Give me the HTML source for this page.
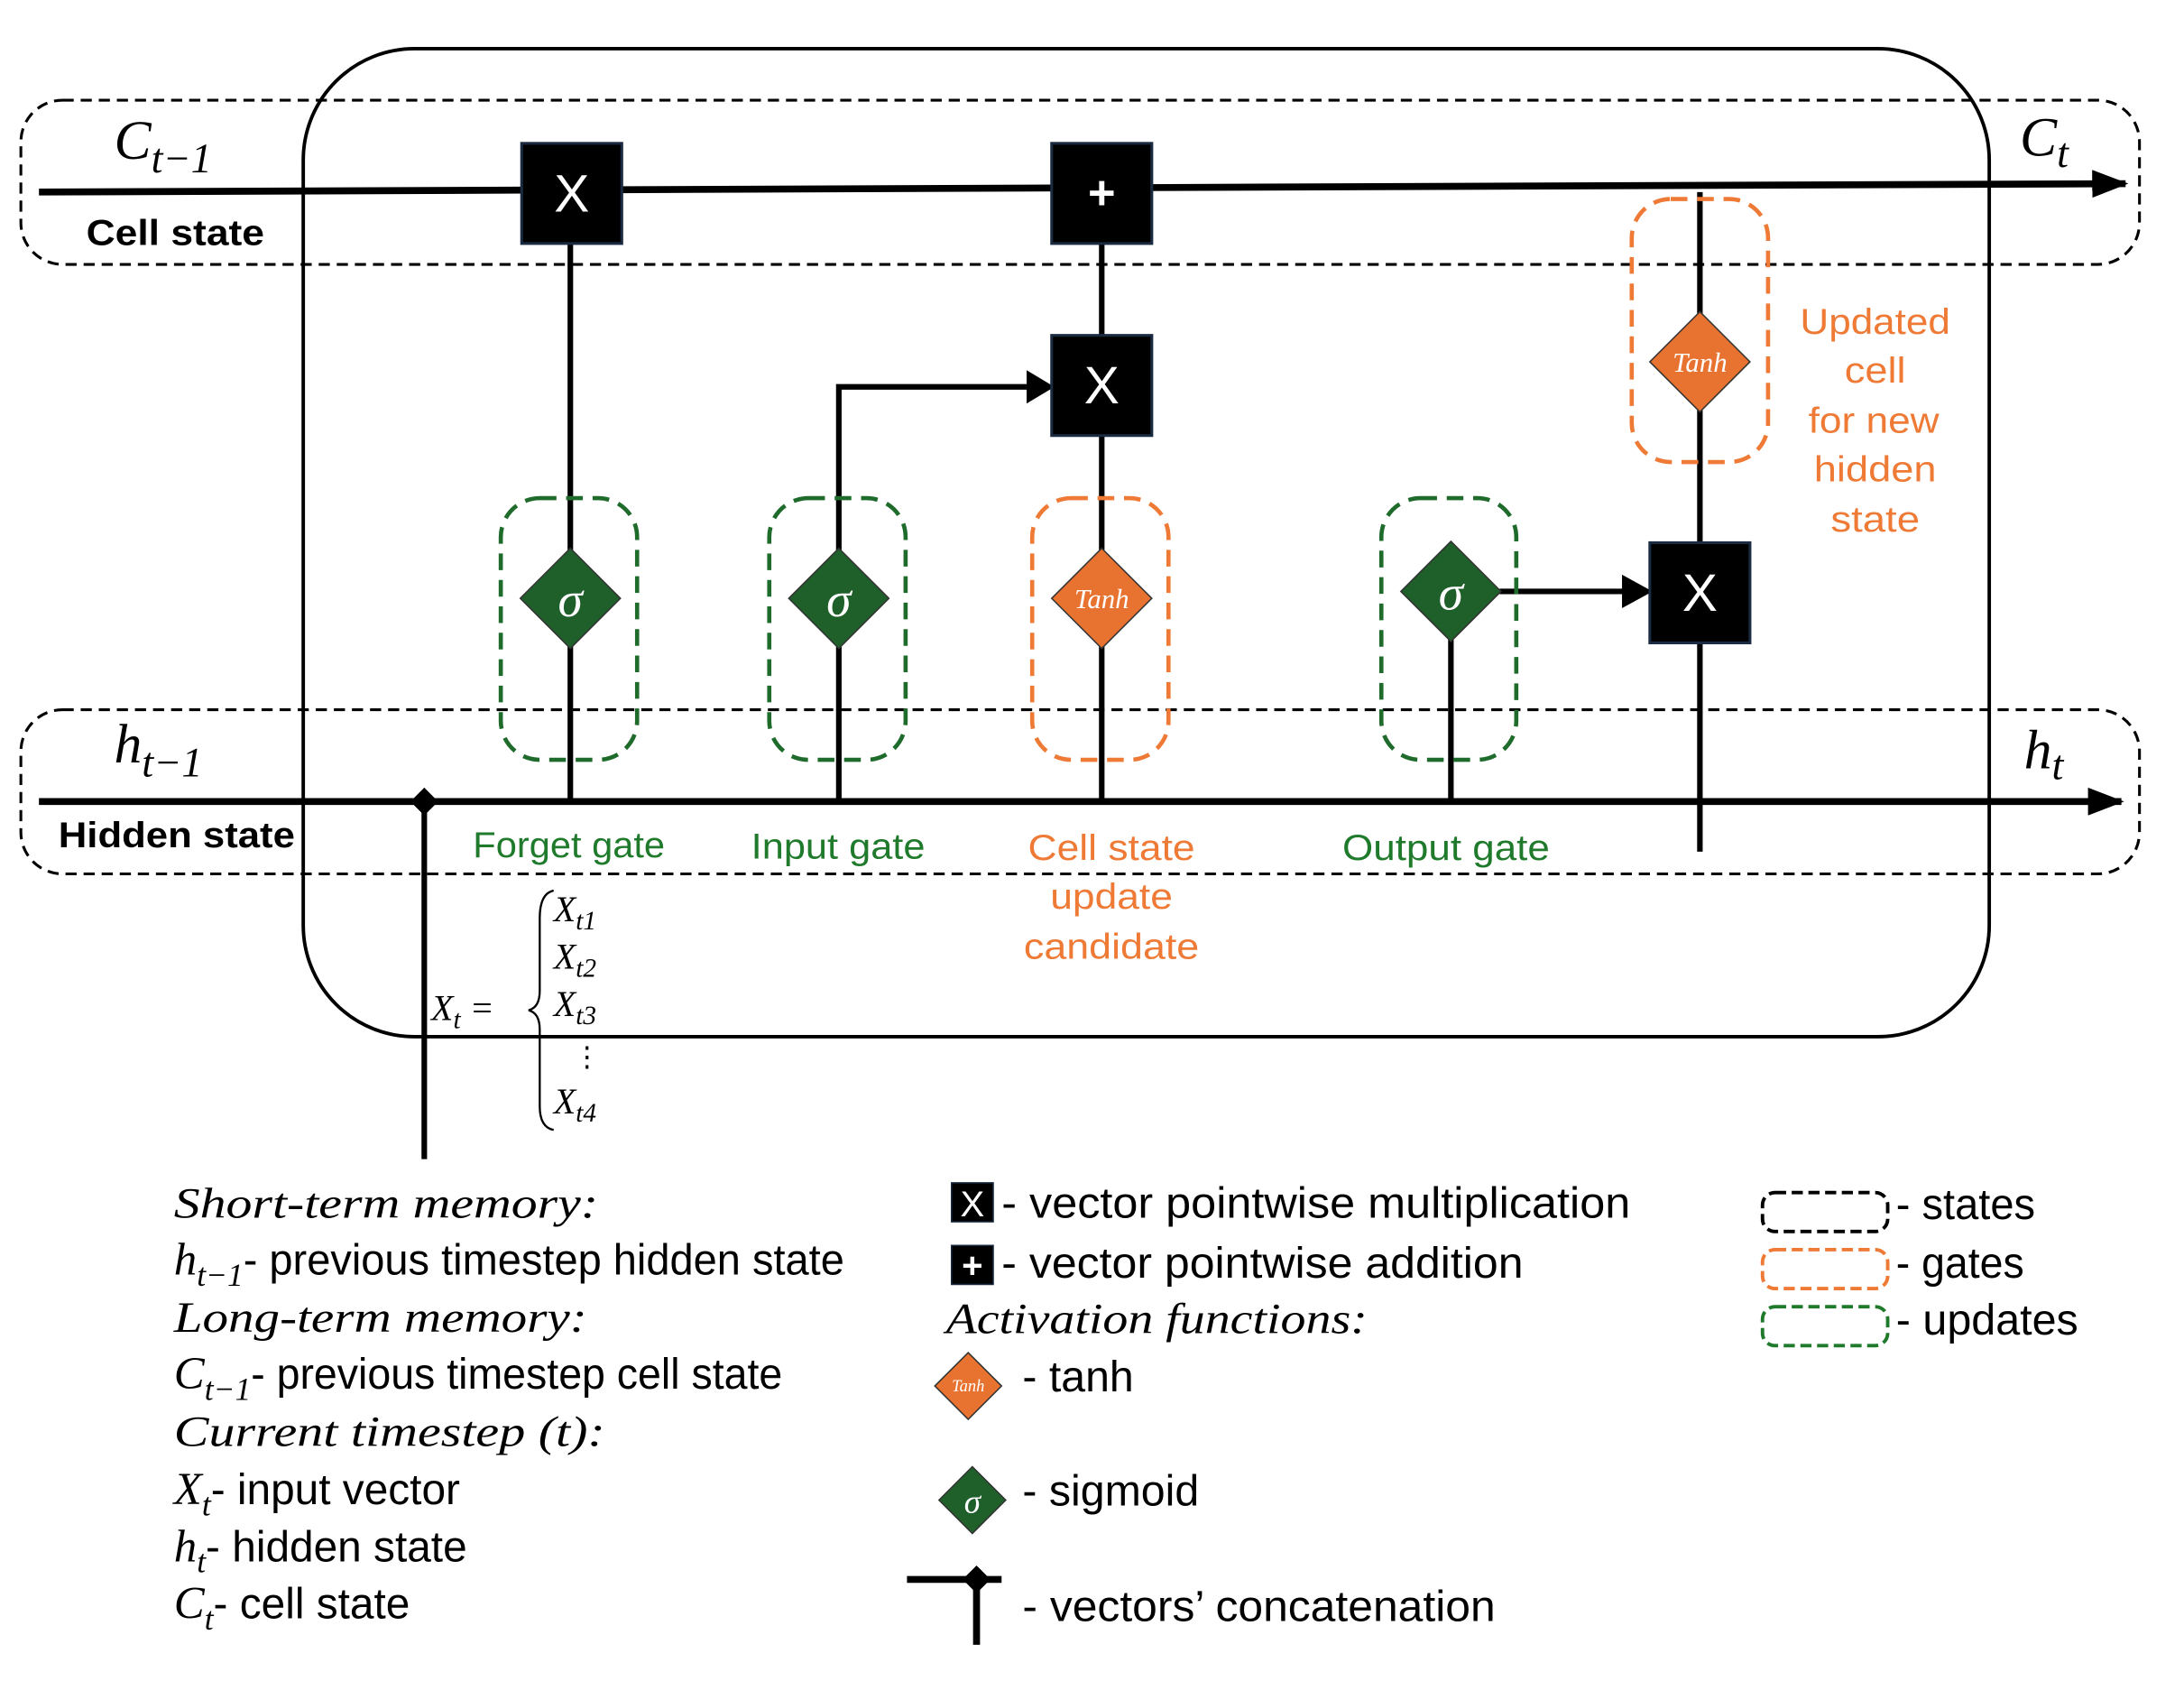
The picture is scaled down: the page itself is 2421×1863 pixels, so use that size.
<!DOCTYPE html>
<html><head><meta charset="utf-8"><style>
html,body{margin:0;padding:0;background:#fff;}
svg{display:block;}
.s{font-family:"Liberation Sans",sans-serif;}
.m{font-family:"Liberation Serif",serif;font-style:italic;}
</style></head><body>
<svg width="2421" height="1863" viewBox="0 0 1570 1208" preserveAspectRatio="none" xmlns="http://www.w3.org/2000/svg">
<defs>
<marker id="ar2" markerWidth="26" markerHeight="20" refX="24" refY="10" orient="auto" markerUnits="userSpaceOnUse">
<path d="M0,0 L26,10 L0,20 z" fill="#000"/></marker>
</defs>
<rect x="218" y="35" width="1212" height="710" rx="80" fill="none" stroke="#000" stroke-width="2.5"/>
<rect x="15" y="72" width="1523" height="118" rx="30" fill="none" stroke="#000" stroke-width="2" stroke-dasharray="8,5"/>
<rect x="15" y="510" width="1523" height="118" rx="30" fill="none" stroke="#000" stroke-width="2" stroke-dasharray="8,5"/>
<line x1="28" y1="138" x2="1528" y2="132" stroke="#000" stroke-width="5" marker-end="url(#ar2)"/>
<line x1="28" y1="576" x2="1525" y2="576" stroke="#000" stroke-width="5" marker-end="url(#ar2)"/>
<g stroke="#000" stroke-width="4" fill="none">
<line x1="410" y1="175" x2="410" y2="576"/>
<line x1="792" y1="175" x2="792" y2="241"/>
<line x1="792" y1="313" x2="792" y2="576"/>
<polyline points="603,576 603,278 738,278"/>
<line x1="1043" y1="430" x2="1043" y2="576"/>
<line x1="1078" y1="425" x2="1168" y2="425"/>
<line x1="1222" y1="138" x2="1222" y2="612"/>
<line x1="305" y1="576" x2="305" y2="833"/>
</g>
<path d="M738,266 L758,278 L738,290z" fill="#000"/>
<path d="M1166,413 L1188,425 L1166,437z" fill="#000"/>
<path d="M305,566 L315,576 L305,586 L295,576z" fill="#000"/>
<g fill="none" stroke-width="3" stroke-dasharray="12,7">
<rect x="360" y="358" width="98" height="188" rx="28" stroke="#1f6b2c"/>
<rect x="553" y="358" width="98" height="188" rx="28" stroke="#1f6b2c"/>
<rect x="993" y="358" width="97" height="188" rx="28" stroke="#1f6b2c"/>
<rect x="742" y="358" width="98" height="188" rx="28" stroke="#ee7a35"/>
<rect x="1173" y="143" width="98" height="189" rx="28" stroke="#ee7a35"/>
</g>
<g fill="#000" stroke="#1a2a40" stroke-width="2">
<rect x="375" y="103" width="72" height="72"/>
<rect x="756" y="103" width="72" height="72"/>
<rect x="756" y="241" width="72" height="72"/>
<rect x="1186" y="390" width="72" height="72"/>
</g>
<g class="s" fill="#fff" font-size="38" text-anchor="middle">
<text x="411" y="152">X</text><text x="792" y="150" font-size="34" font-weight="bold">+</text>
<text x="792" y="290">X</text><text x="1222" y="439">X</text>
</g>
<g stroke="#333" stroke-width="1">
<path d="M410,394 L446,430 L410,466 L374,430z" fill="#1f5f2a"/>
<path d="M603,394 L639,430 L603,466 L567,430z" fill="#1f5f2a"/>
<path d="M1043,389 L1079,425 L1043,461 L1007,425z" fill="#1f5f2a"/>
<path d="M792,394 L828,430 L792,466 L756,430z" fill="#e8722f"/>
<path d="M1222,224 L1258,260 L1222,296 L1186,260z" fill="#e8722f"/>
</g>
<g class="m" fill="#fff" text-anchor="middle">
<text x="410" y="443" font-size="36">σ</text><text x="603" y="443" font-size="36">σ</text><text x="1043" y="438" font-size="36">σ</text>
<text x="792" y="437" font-size="20">Tanh</text><text x="1222" y="267" font-size="20">Tanh</text>
</g>
<g class="m" font-size="40">
<text x="82" y="114">C<tspan font-size="30" dy="10">t−1</tspan></text>
<text x="1452" y="112">C<tspan font-size="30" dy="8">t</tspan></text>
<text x="82" y="548">h<tspan font-size="30" dy="10">t−1</tspan></text>
<text x="1455" y="552">h<tspan font-size="30" dy="8">t</tspan></text>
</g>
<g class="s" font-size="26" font-weight="bold" lengthAdjust="spacingAndGlyphs">
<text x="62" y="176" textLength="128" lengthAdjust="spacingAndGlyphs">Cell state</text>
<text x="42" y="609" textLength="170" lengthAdjust="spacingAndGlyphs">Hidden state</text>
</g>
<g class="s" font-size="26" fill="#1f7a2c">
<text x="340" y="616" textLength="138" lengthAdjust="spacingAndGlyphs">Forget gate</text>
<text x="540" y="617" textLength="125" lengthAdjust="spacingAndGlyphs">Input gate</text>
<text x="965" y="618" textLength="149" lengthAdjust="spacingAndGlyphs">Output gate</text>
</g>
<g class="s" font-size="26" fill="#ee7a35">
<text x="739" y="618" textLength="120" lengthAdjust="spacingAndGlyphs">Cell state</text>
<text x="755" y="653" textLength="88" lengthAdjust="spacingAndGlyphs">update</text>
<text x="736" y="689" textLength="126" lengthAdjust="spacingAndGlyphs">candidate</text>
<text x="1294" y="240" textLength="108" lengthAdjust="spacingAndGlyphs">Updated</text>
<text x="1326" y="275" textLength="44" lengthAdjust="spacingAndGlyphs">cell</text>
<text x="1300" y="311" textLength="94" lengthAdjust="spacingAndGlyphs">for new</text>
<text x="1304" y="346" textLength="88" lengthAdjust="spacingAndGlyphs">hidden</text>
<text x="1316" y="382" textLength="64" lengthAdjust="spacingAndGlyphs">state</text>
</g>
<g class="m" font-size="26">
<text x="310" y="733">X<tspan font-size="19" dy="6">t</tspan><tspan dy="-6"> =</tspan></text>
<text x="398" y="662">X<tspan font-size="19" dy="6">t1</tspan></text>
<text x="398" y="696">X<tspan font-size="19" dy="6">t2</tspan></text>
<text x="398" y="730">X<tspan font-size="19" dy="6">t3</tspan></text>
<text x="412" y="766" font-style="normal" font-size="20">⋮</text>
<text x="398" y="800">X<tspan font-size="19" dy="6">t4</tspan></text>
</g>
<path d="M398,640 Q388,642 388,660 L388,712 Q388,724 380,726 Q388,728 388,740 L388,795 Q388,810 398,812" fill="none" stroke="#000" stroke-width="1.5"/>
<g font-size="31">
<text x="125" y="875" class="m" textLength="305" lengthAdjust="spacingAndGlyphs">Short-term memory:</text>
<text x="125" y="916" class="m" font-size="33">h<tspan font-size="23" dy="8">t−1</tspan><tspan dy="-8" class="s" font-style="normal" font-size="31" textLength="432" lengthAdjust="spacingAndGlyphs">- previous timestep hidden state</tspan></text>
<text x="125" y="957" class="m" textLength="297" lengthAdjust="spacingAndGlyphs">Long-term memory:</text>
<text x="125" y="998" class="m" font-size="33">C<tspan font-size="23" dy="8">t−1</tspan><tspan dy="-8" class="s" font-style="normal" font-size="31" textLength="382" lengthAdjust="spacingAndGlyphs">- previous timestep cell state</tspan></text>
<text x="125" y="1039" class="m" textLength="310" lengthAdjust="spacingAndGlyphs">Current timestep (t):</text>
<text x="125" y="1081" class="m" font-size="33">X<tspan font-size="23" dy="8">t</tspan><tspan dy="-8" class="s" font-style="normal" font-size="31">- input vector</tspan></text>
<text x="125" y="1122" class="m" font-size="33">h<tspan font-size="23" dy="8">t</tspan><tspan dy="-8" class="s" font-style="normal" font-size="31">- hidden state</tspan></text>
<text x="125" y="1163" class="m" font-size="33">C<tspan font-size="23" dy="8">t</tspan><tspan dy="-8" class="s" font-style="normal" font-size="31">- cell state</tspan></text>
</g>
<rect x="684" y="850" width="30" height="28" fill="#000" stroke="#1a2a40"/>
<text x="699" y="874" class="s" font-size="26" fill="#fff" text-anchor="middle">X</text>
<rect x="684" y="895" width="30" height="28" fill="#000" stroke="#1a2a40"/>
<text x="699" y="918" class="s" font-size="26" fill="#fff" text-anchor="middle" font-weight="bold">+</text>
<g class="s" font-size="31">
<text x="720" y="875" textLength="452" lengthAdjust="spacingAndGlyphs">- vector pointwise multiplication</text>
<text x="720" y="918" textLength="375" lengthAdjust="spacingAndGlyphs">- vector pointwise addition</text>
<text x="680" y="958" class="m" textLength="303" lengthAdjust="spacingAndGlyphs">Activation functions:</text>
<text x="735" y="1000" textLength="80" lengthAdjust="spacingAndGlyphs">- tanh</text>
<text x="735" y="1082" textLength="127" lengthAdjust="spacingAndGlyphs">- sigmoid</text>
<text x="735" y="1165" textLength="340" lengthAdjust="spacingAndGlyphs">- vectors’ concatenation</text>
</g>
<path d="M696,972 L720,996 L696,1020 L672,996z" fill="#e8722f" stroke="#333"/>
<text x="696" y="1000" class="m" font-size="12" fill="#fff" text-anchor="middle">Tanh</text>
<path d="M699,1054 L723,1078 L699,1102 L675,1078z" fill="#1f5f2a" stroke="#333"/>
<text x="699" y="1087" class="m" font-size="24" fill="#fff" text-anchor="middle">σ</text>
<line x1="652" y1="1135" x2="720" y2="1135" stroke="#000" stroke-width="5"/>
<line x1="702" y1="1135" x2="702" y2="1182" stroke="#000" stroke-width="5"/>
<path d="M702,1125 L712,1135 L702,1145 L692,1135z" fill="#000"/>
<g fill="none" stroke-width="2.5" stroke-dasharray="8,4">
<rect x="1267" y="857" width="90" height="28" rx="9" stroke="#000"/>
<rect x="1267" y="898" width="90" height="28" rx="9" stroke="#ee7a35"/>
<rect x="1267" y="939" width="90" height="28" rx="9" stroke="#1f7a2c"/>
</g>
<g class="s" font-size="31">
<text x="1363" y="876" textLength="100" lengthAdjust="spacingAndGlyphs">- states</text>
<text x="1363" y="918" textLength="92" lengthAdjust="spacingAndGlyphs">- gates</text>
<text x="1363" y="959" textLength="131" lengthAdjust="spacingAndGlyphs">- updates</text>
</g>
</svg>
</body></html>
